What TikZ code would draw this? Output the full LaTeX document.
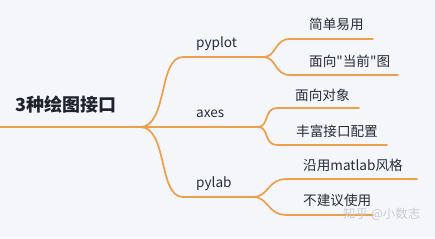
\documentclass[tikz,border=0pt]{standalone}
\usepackage{fontspec}
\newfontfamily\cjk{Noto Sans CJK SC}
\definecolor{bgcol}{HTML}{F5F6F9}
\definecolor{branch}{HTML}{EE9F4A}
\definecolor{ink}{HTML}{252D3A}
\definecolor{mark}{HTML}{C9CDD3}
\tikzset{
  link/.style={draw=branch, line width=1.7pt, line cap=round},
  lbl/.style={anchor=west, inner sep=0pt, text=ink, font=\cjk\fontsize{13.6}{15}\selectfont},
  rootlbl/.style={anchor=west, inner sep=0pt, text=ink!80!black, font=\cjk\bfseries\fontsize{18}{20}\selectfont}
}
\begin{document}
\begin{tikzpicture}[x=1pt,y=-1pt]
	\fill[bgcol] (0,0) rectangle (435,238);
	\useasboundingbox (0,0) rectangle (435,238);
	\path
	coordinate (root0) at (0,127)
	coordinate (root1) at (140,127)
	coordinate (pyp0) at (183,57)
	coordinate (pyp1) at (263,57)
	coordinate (axe1) at (258,127)
	coordinate (pyl0) at (183,197)
	coordinate (pyl1) at (253,197)
	coordinate (ea0) at (290,39)
	coordinate (ea1) at (373,39)
	coordinate (cur0) at (290,75)
	coordinate (cur1) at (398,75)
	coordinate (obj0) at (277,108)
	coordinate (obj1) at (359,108)
	coordinate (rich0) at (277,145)
	coordinate (rich1) at (387,145)
	coordinate (mat0) at (287,179)
	coordinate (mat1) at (417,179)
	coordinate (nor0) at (287,215)
	coordinate (nor1) at (373,215)
	;
% main branches
\draw[link] (root0) -- (root1) -- (axe1);
\draw[link] (root1) .. controls (168,127) and (158,57) .. (pyp0) -- (pyp1);
\draw[link] (root1) .. controls (168,127) and (158,197) .. (pyl0) -- (pyl1);
% pyplot
\draw[link] (pyp1) .. controls (277,57) and (274,39) .. (ea0) -- (ea1);
\draw[link] (pyp1) .. controls (277,57) and (274,75) .. (cur0) -- (cur1);
% axes
\draw[link] (axe1) .. controls (269,127) and (264,108) .. (obj0) -- (obj1);
\draw[link] (axe1) .. controls (269,127) and (264,145) .. (rich0) -- (rich1);
% pylab
\draw[link] (pyl1) .. controls (269,197) and (267,179) .. (mat0) -- (mat1);
\draw[link] (pyl1) .. controls (269,197) and (267,215) .. (nor0) -- (nor1);
	\node[rootlbl] (title) at (15,104.5) {3种绘图接口};
	\node[lbl] (pyplot) at (196,44) {pyplot};
	\node[lbl] (axes) at (196,114) {axes};
	\node[lbl] (pylab) at (196,184) {pylab};
	\node[lbl] (easy) at (309,24) {简单易用};
	\node[lbl] (current) at (309,61) {面向"当前"图};
	\node[lbl] (object) at (295,95) {面向对象};
	\node[lbl] (rich) at (296,131) {丰富接口配置};
	\node[lbl] (matlab) at (303,165) {沿用matlab风格};
	\node[lbl] (noadv) at (303,200) {不建议使用};
	\node[anchor=west, inner sep=0pt, text=mark, font=\cjk\fontsize{12.5}{14}\selectfont] (wmark) at (343,214) {知乎 @小数志};
\end{tikzpicture}
\end{document}
